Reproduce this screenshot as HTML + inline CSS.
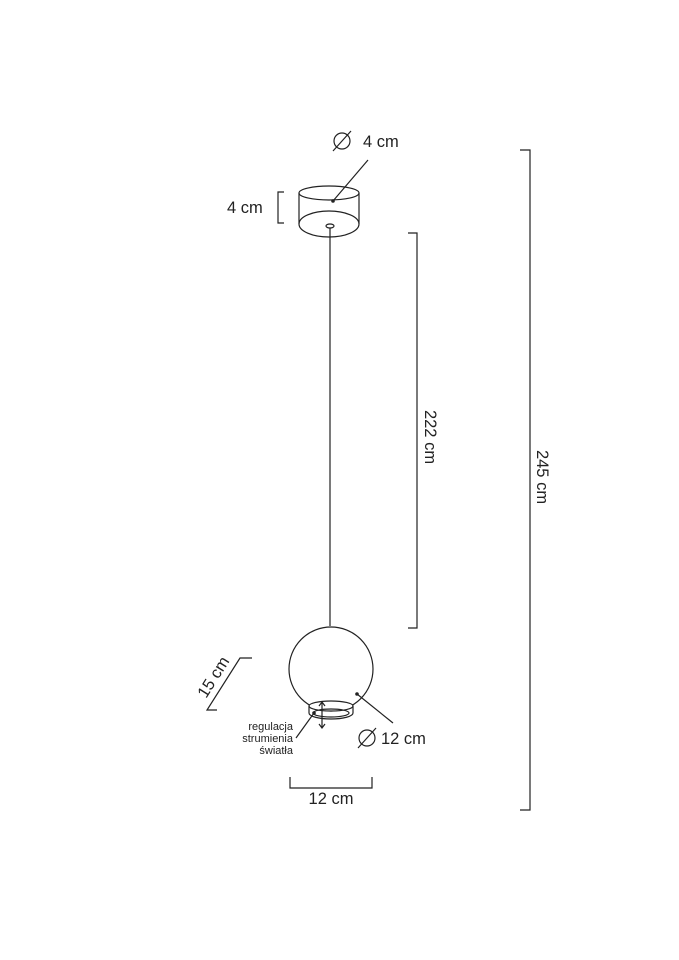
<!DOCTYPE html>
<html><head><style>body{margin:0;background:#fff}svg{display:block}text{font-family:"Liberation Sans",sans-serif;fill:#222}</style></head><body>
<svg width="679" height="960" viewBox="0 0 679 960" xmlns="http://www.w3.org/2000/svg">
<g fill="none" stroke="#222" stroke-width="1.2">
<ellipse cx="329" cy="193" rx="30" ry="7"/>
<line x1="299" y1="193" x2="299" y2="224"/><line x1="359" y1="193" x2="359" y2="224"/>
<ellipse cx="329" cy="224" rx="30" ry="13"/>
<ellipse cx="330" cy="226" rx="4" ry="2"/>
<line x1="330" y1="228" x2="330" y2="626"/>
<circle cx="331" cy="669" r="42"/>
<ellipse cx="331" cy="706" rx="22" ry="5" fill="#fff"/>
<path d="M309 706 V713 A22 6 0 0 0 353 713 V706"/>
<ellipse cx="331" cy="713" rx="18" ry="4"/>
<line x1="322" y1="703" x2="322" y2="727"/>
<path d="M319 706 L322 702 L325 706 M319 724 L322 728 L325 724"/>
<path d="M520 150 H530 V810 H520"/>
<path d="M408 233 H417 V628 H408"/>
<path d="M284 192 H278 V223 H284"/>
<path d="M290 777 V788 H372 V777"/>
<path d="M252 658 H240 L207 710 H217"/>
<line x1="368" y1="160" x2="333" y2="201"/>
<line x1="357" y1="694" x2="393" y2="723"/>
<line x1="296" y1="738" x2="314" y2="713"/>
<circle cx="342" cy="141" r="8"/><line x1="333" y1="151" x2="351" y2="131"/>
<circle cx="367" cy="738" r="8"/><line x1="358" y1="748" x2="376" y2="728"/>
</g>
<circle cx="333" cy="201" r="1.8" fill="#222"/>
<circle cx="357" cy="694" r="1.8" fill="#222"/>
<circle cx="314" cy="713" r="1.8" fill="#222"/>
<g font-size="16.5">
<text x="363" y="147">4 cm</text>
<text x="227" y="213">4 cm</text>
<text x="381" y="744">12 cm</text>
<text x="331" y="804" text-anchor="middle">12 cm</text>
<text transform="translate(425,437) rotate(90)" text-anchor="middle">222 cm</text>
<text transform="translate(537,477) rotate(90)" text-anchor="middle">245 cm</text>
<text transform="translate(218,680) rotate(-58)" text-anchor="middle">15 cm</text>
</g>
<g font-size="11" text-anchor="end">
<text x="293" y="730">regulacja</text>
<text x="293" y="742">strumienia</text>
<text x="293" y="754">światła</text>
</g>
</svg>
</body></html>
